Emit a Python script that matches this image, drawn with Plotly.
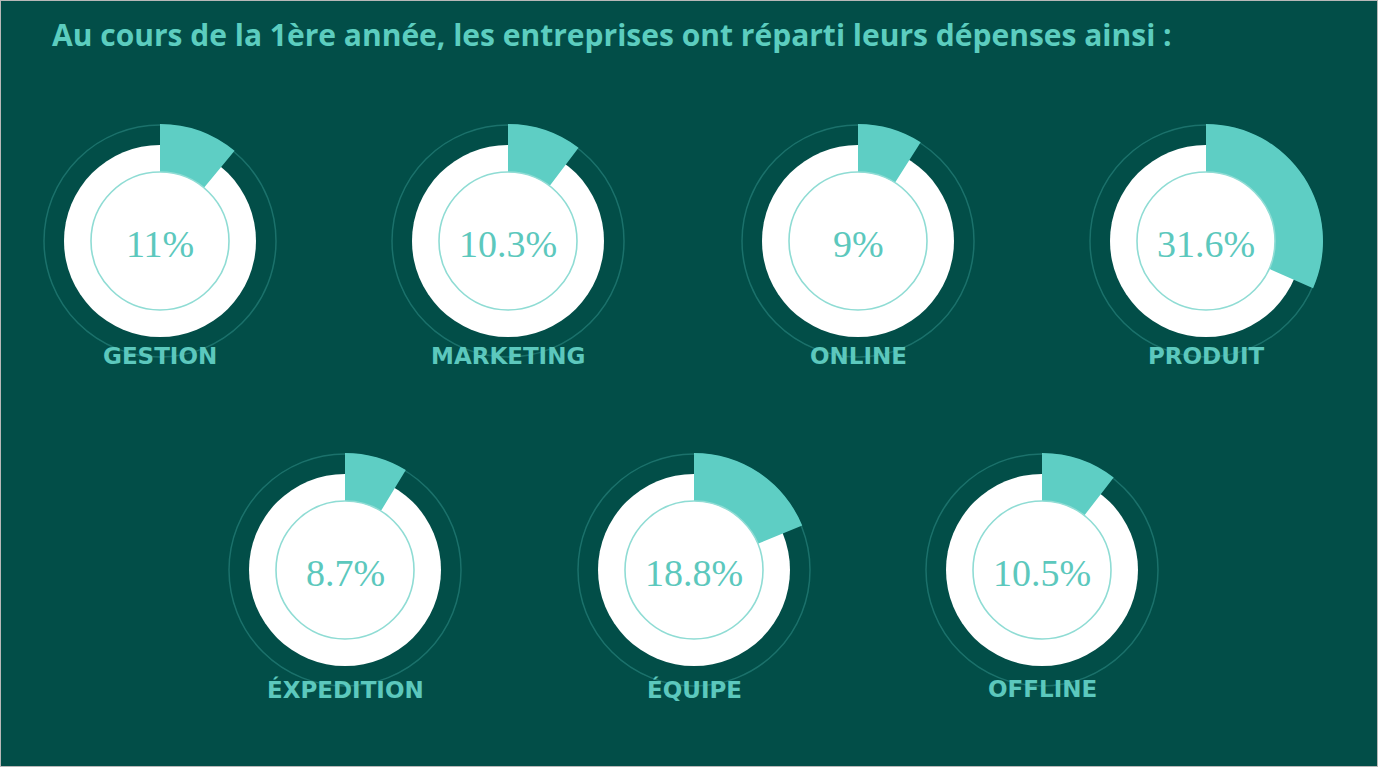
import plotly.graph_objects as go

W, H = 1378, 767

# ---- data ----
categories = ["GESTION", "MARKETING", "ONLINE", "PRODUIT", "ÉXPEDITION", "ÉQUIPE", "OFFLINE"]
values = [11.0, 10.3, 9.0, 31.6, 8.7, 18.8, 10.5]
value_labels = ["11%", "10.3%", "9%", "31.6%", "8.7%", "18.8%", "10.5%"]
title_text = "Au cours de la 1ère année, les entreprises ont réparti leurs dépenses ainsi :"

# ---- layout (pixels) ----
centers = [(160, 241), (508, 241), (858, 241), (1206, 241),
           (345, 570), (694, 570), (1042, 570)]
label_offsets = [115, 115, 115, 115, 119, 119, 119]
R_OUT = 117      # outer radius of the teal wedge / faint ring
R_WHITE = 96     # white disk
R_IN = 69        # inner thin circle / wedge inner radius

BG = "#024E48"
TEAL = "#5ECEC4"
TEXT_TEAL = "#5CC8BD"


def px_x(x):
    return x / W


def px_y(y):
    return 1 - y / H


fig = go.Figure()
shapes = []
annotations = []

for (cx, cy), off, cat, v, lab in zip(centers, label_offsets, categories, values, value_labels):
    # white disk (below traces)
    shapes.append(dict(type="circle", xref="paper", yref="paper",
                       x0=px_x(cx - R_WHITE), x1=px_x(cx + R_WHITE),
                       y0=px_y(cy + R_WHITE), y1=px_y(cy - R_WHITE),
                       fillcolor="white", line=dict(width=0), layer="below"))
    # faint outer ring
    shapes.append(dict(type="circle", xref="paper", yref="paper",
                       x0=px_x(cx - R_OUT + 1), x1=px_x(cx + R_OUT - 1),
                       y0=px_y(cy + R_OUT - 1), y1=px_y(cy - R_OUT + 1),
                       fillcolor="rgba(0,0,0,0)",
                       line=dict(width=1.5, color="rgba(94,206,196,0.28)"), layer="below"))
    # the wedge
    fig.add_trace(go.Pie(
        values=[v, 100 - v],
        labels=[cat, "reste"],
        marker=dict(colors=[TEAL, "rgba(0,0,0,0)"], line=dict(width=0)),
        hole=R_IN / R_OUT,
        sort=False,
        direction="clockwise",
        rotation=0,
        textinfo="none",
        hoverinfo="label+value",
        showlegend=False,
        domain=dict(x=[px_x(cx - R_OUT), px_x(cx + R_OUT)],
                    y=[px_y(cy + R_OUT), px_y(cy - R_OUT)]),
    ))
    # inner thin circle
    shapes.append(dict(type="circle", xref="paper", yref="paper",
                       x0=px_x(cx - R_IN), x1=px_x(cx + R_IN),
                       y0=px_y(cy + R_IN), y1=px_y(cy - R_IN),
                       fillcolor="rgba(0,0,0,0)",
                       line=dict(width=1.6, color="#8FDCD4"), layer="above"))
    # percentage text
    annotations.append(dict(x=px_x(cx), y=px_y(cy + 3), xref="paper", yref="paper",
                            text=lab, showarrow=False, xanchor="center", yanchor="middle",
                            font=dict(family="Liberation Serif", size=38, color=TEXT_TEAL)))
    # category label
    annotations.append(dict(x=px_x(cx), y=px_y(cy + off), xref="paper", yref="paper",
                            text=cat, showarrow=False, xanchor="center", yanchor="middle",
                            font=dict(family="DejaVu Sans", size=23, color=TEXT_TEAL,
                                      weight="bold")))

# title
annotations.append(dict(x=px_x(50), y=px_y(34), xref="paper", yref="paper",
                        text=title_text, showarrow=False, xanchor="left", yanchor="middle",
                        font=dict(family="Open Sans", size=30, color="#5CCDBF", weight="bold")))

# border frame
shapes.append(dict(type="rect", xref="paper", yref="paper", x0=0, x1=1, y0=0, y1=1,
                   line=dict(width=2, color="#B8B8B8"), fillcolor="rgba(0,0,0,0)",
                   layer="above"))

fig.update_layout(
    width=W, height=H,
    margin=dict(l=0, r=0, t=0, b=0),
    paper_bgcolor=BG, plot_bgcolor=BG,
    shapes=shapes, annotations=annotations,
    showlegend=False,
)

fig.write_html("out.html", config={"displayModeBar": False})
